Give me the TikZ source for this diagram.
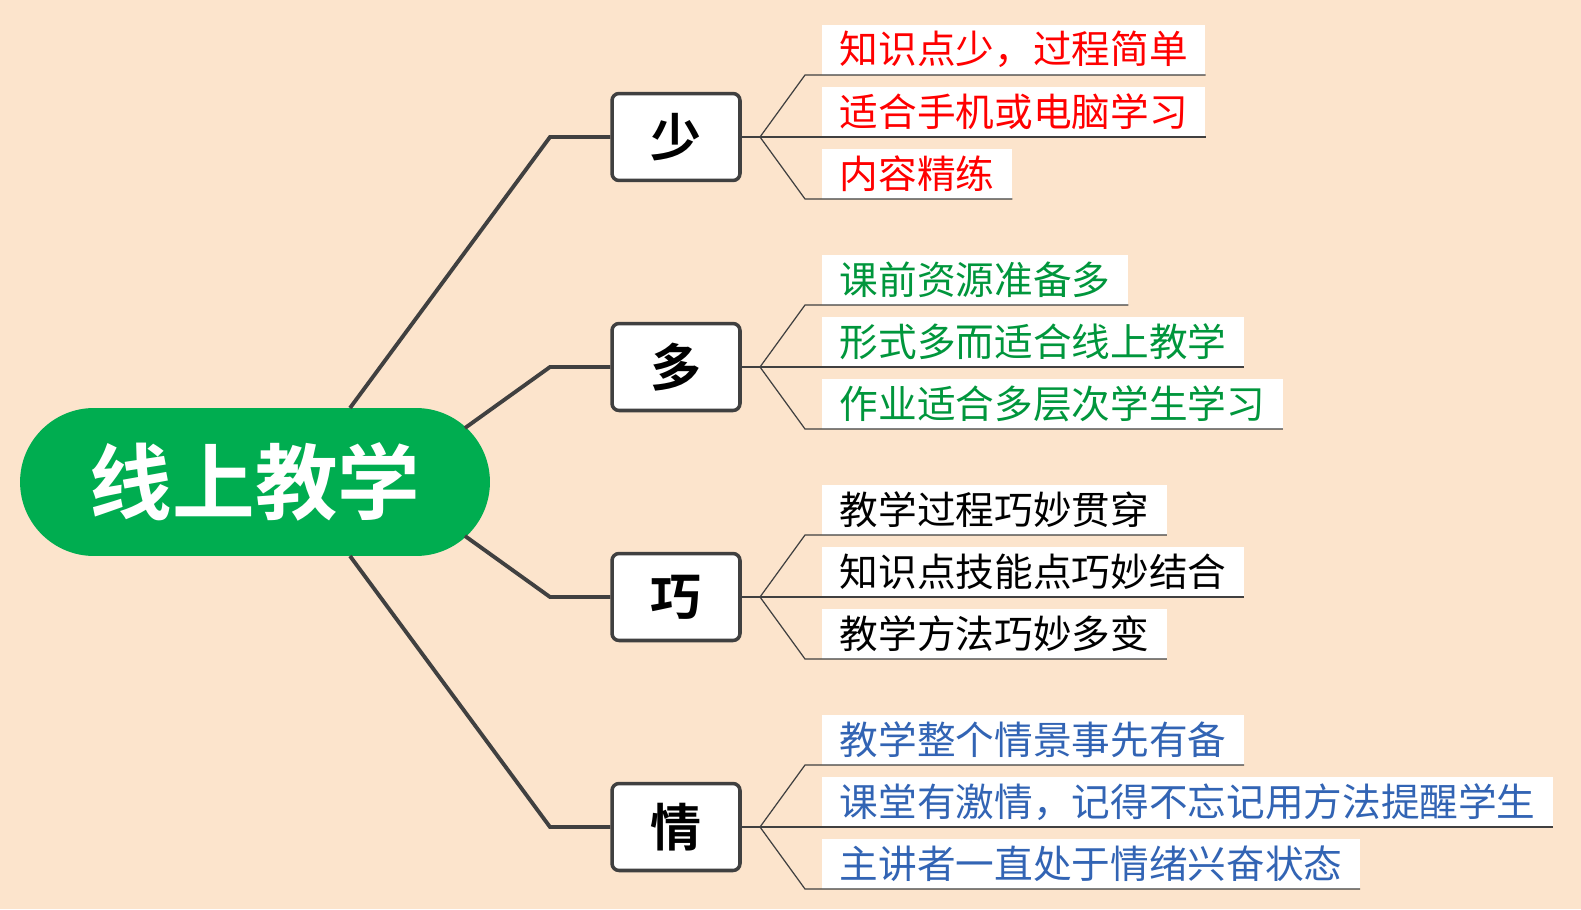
\documentclass[tikz,border=0pt]{standalone}
\usepackage{fontspec}
\setmainfont{Noto Sans CJK SC}[BoldFont={Noto Sans CJK SC Bold}]
\usetikzlibrary{positioning}
\definecolor{bgpeach}{RGB}{252,228,204}
\definecolor{rootgreen}{RGB}{0,173,80}
\definecolor{linegray}{RGB}{64,64,64}
\definecolor{leafred}{RGB}{255,0,0}
\definecolor{leafgreen}{RGB}{0,150,60}
\definecolor{leafblue}{RGB}{50,100,180}
\tikzset{
  rootnode/.style={rounded corners=1.48cm,fill=rootgreen,text=white,minimum width=9.4cm,minimum height=2.96cm,font=\bfseries\fontsize{47}{47}\selectfont},
  branchnode/.style={draw=linegray,line width=2pt,rounded corners=4pt,fill=white,minimum width=2.56cm,minimum height=1.74cm,font=\bfseries\fontsize{29}{29}\selectfont},
  leafnode/.style={fill=white,anchor=south west,minimum height=1cm,inner xsep=0.35cm,inner ysep=0pt,font=\fontsize{22}{22}\selectfont},
  trunk/.style={linegray,line width=2.2pt},
  twig/.style={linegray,line width=0.7pt}
}
\begin{document}
\begin{tikzpicture}[x=0.02cm,y=-0.02cm]
  \fill[bgpeach] (0,0) rectangle (1581,909);
  \useasboundingbox (0,0) rectangle (1581,909);
  \node[rootnode] (root) at (255,482) {线上教学};
  % branches
  \node[branchnode] (b1) at (676,137) {少};
  \node[branchnode] (b2) at (676,367) {多};
  \node[branchnode] (b3) at (676,597) {巧};
  \node[branchnode] (b4) at (676,827) {情};
  \coordinate (r1) at (350,408);
  \coordinate (r2) at (465,428);
  \coordinate (r3) at (465,536);
  \coordinate (r4) at (350,556);
  \foreach \i in {1,...,4}
    \draw[trunk] (r\i) -- (550,0 |- b\i) -- (b\i.west);
  % leaves
  \foreach \b/\y/\col/\txt [count=\k] in {
      1/75/leafred/{知识点少，过程简单},
      1/137/leafred/{适合手机或电脑学习},
      1/199/leafred/{内容精练},
      2/305/leafgreen/{课前资源准备多},
      2/367/leafgreen/{形式多而适合线上教学},
      2/429/leafgreen/{作业适合多层次学生学习},
      3/535/black/{教学过程巧妙贯穿},
      3/597/black/{知识点技能点巧妙结合},
      3/659/black/{教学方法巧妙多变},
      4/765/leafblue/{教学整个情景事先有备},
      4/827/leafblue/{课堂有激情，记得不忘记用方法提醒学生},
      4/889/leafblue/{主讲者一直处于情绪兴奋状态}} {
    \node[leafnode,text=\col] (l\k) at (822,\y) {\txt};
    \coordinate (j\k) at (760,0 |- b\b);
    \draw[twig] (b\b.east) -- (j\k) -- (805,\y) -- (l\k.south east);
  }
\end{tikzpicture}
\end{document}
